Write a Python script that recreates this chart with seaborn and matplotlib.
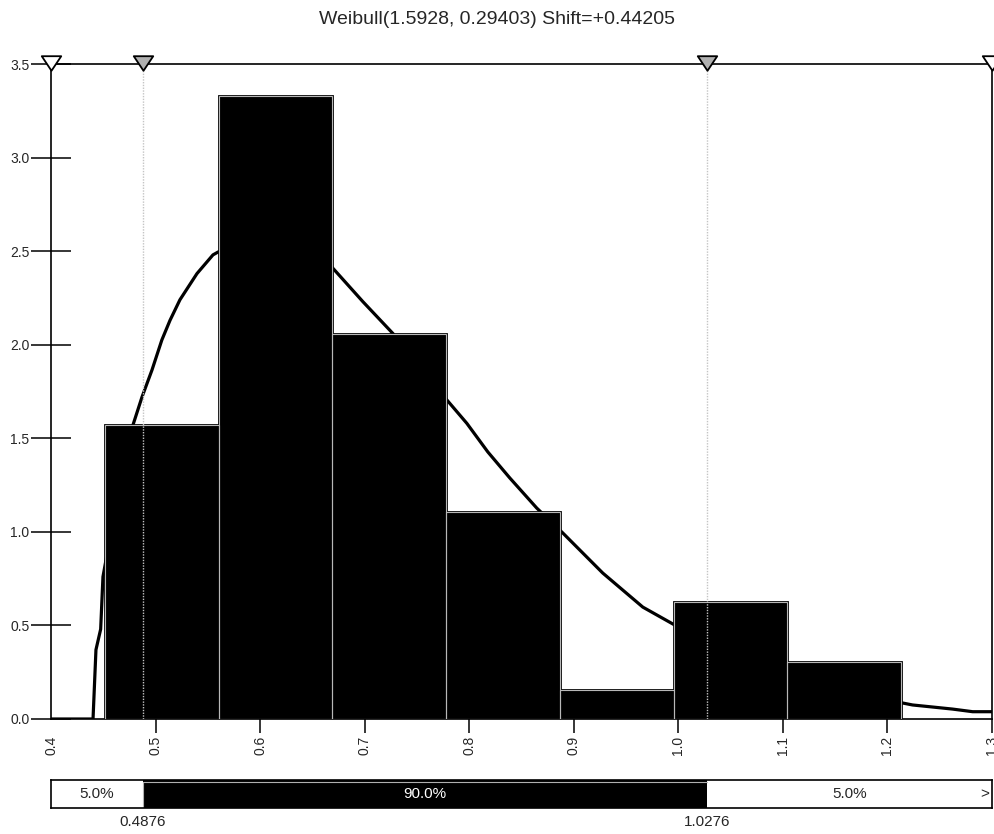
import numpy as np
import pandas as pd
import matplotlib
matplotlib.use("Agg")
import matplotlib.pyplot as plt
from matplotlib.path import Path
import seaborn as sns

# histogram (density)
bin_edges = [0.4516, 0.5604, 0.6692, 0.7780, 0.8868, 0.9956, 1.1044, 1.2132]
bar_heights = [1.571, 3.329, 2.057, 1.106, 0.155, 0.625, 0.305]

# fitted Weibull curve
curve_x = [0.400, 0.4402, 0.4430, 0.4475, 0.4497, 0.4526, 0.4650, 0.4784, 0.4870,
           0.4966, 0.5060, 0.5138, 0.5233, 0.5396, 0.5549, 0.5597, 0.580, 0.600,
           0.620, 0.640, 0.6686, 0.6983, 0.7270, 0.7786, 0.7977, 0.8178, 0.8388,
           0.8646, 0.8895, 0.9277, 0.9660, 0.9966, 1.030, 1.060, 1.0846, 1.1046,
           1.150, 1.2145, 1.2240, 1.2432, 1.2623, 1.2815, 1.300]
curve_y = [0.0, 0.0, 0.37, 0.48, 0.76, 0.85, 1.20, 1.571, 1.72,
           1.865, 2.025, 2.13, 2.24, 2.38, 2.48, 2.495, 2.54, 2.55,
           2.53, 2.49, 2.415, 2.23, 2.06, 1.705, 1.58, 1.427, 1.288,
           1.127, 0.994, 0.78, 0.598, 0.502, 0.41, 0.33, 0.27, 0.219,
           0.16, 0.0855, 0.075, 0.064, 0.053, 0.039, 0.039]

left_pct, right_pct = 0.4876, 1.0276
pct_labels = ["5.0%", "90.0%", "5.0%"]
x_ticks = [0.4, 0.5, 0.6, 0.7, 0.8, 0.9, 1.0, 1.1, 1.2, 1.3]
y_ticks = [0.0, 0.5, 1.0, 1.5, 2.0, 2.5, 3.0, 3.5]
title = "Weibull(1.5928, 0.29403) Shift=+0.44205"

sns.set_style("white")
plt.rcParams["font.family"] = ["Liberation Sans", "DejaVu Sans"]

W, H = 994, 834
fig = plt.figure(figsize=(W / 100, H / 100), dpi=100)
ax = fig.add_axes([51 / W, 1 - 719 / H, (992 - 51) / W, (719 - 64) / H])
ax2 = fig.add_axes([51 / W, 1 - 808 / H, (992 - 51) / W, (808 - 780) / H])

# curve behind the bars
curve = pd.DataFrame({"x": curve_x, "y": curve_y})
sns.lineplot(data=curve, x="x", y="y", ax=ax, color="black", lw=2.3, zorder=1,
             sort=False)

centers = [(a + b) / 2 for a, b in zip(bin_edges[:-1], bin_edges[1:])]
hist = pd.DataFrame({"c": centers, "h": bar_heights})
sns.histplot(data=hist, x="c", weights="h", bins=bin_edges, ax=ax, color="black",
             alpha=1, edgecolor="black", linewidth=2.0, zorder=2)
ax.bar(bin_edges[:-1], bar_heights, width=np.diff(bin_edges), align="edge",
       fill=False, edgecolor="#b8b8b8", linewidth=0.8, zorder=3)

# percentile lines and markers
for xv in (left_pct, right_pct):
    ax.plot([xv, xv], [0, 3.5], color="#c4c4c4", lw=1.0, ls=(0, (1, 1)), zorder=4)
tri = Path([(-1, 0.75), (1, 0.75), (0, -0.75), (-1, 0.75)],
           [Path.MOVETO, Path.LINETO, Path.LINETO, Path.CLOSEPOLY])
for xv, fc in [(0.4, "white"), (left_pct, "#b0b0b0"), (right_pct, "#b0b0b0"), (1.3, "white")]:
    ax.plot([xv], [3.508], marker=tri, ms=14, mfc=fc, mec="black", mew=1.3,
            clip_on=False, zorder=6)

ax.set_xlim(0.4, 1.3)
ax.set_ylim(0, 3.5)
ax.set_xticks(x_ticks)
ax.set_xticklabels([f"{v:.1f}" for v in x_ticks], rotation=90, fontsize=10)
ax.set_yticks(y_ticks)
ax.set_yticklabels([f"{v:.1f}" for v in y_ticks], fontsize=10)
ax.tick_params(axis="y", left=True, direction="inout", length=29, width=1.1, pad=1,
               color="black")
ax.tick_params(axis="x", bottom=True, direction="out", length=10, width=1.1, pad=2,
               color="black")
ax.xaxis.get_major_ticks()[0].tick1line.set_visible(False)
ax.set_xlabel("")
ax.set_ylabel("")
for sp in ax.spines.values():
    sp.set_color("black")
    sp.set_linewidth(1.2)
    sp.set_visible(True)

fig.text(0.5, 1 - 20 / H, title, ha="center", va="center", fontsize=14)

# percentile bar underneath
ax2.set_xlim(0.4, 1.3)
ax2.set_ylim(0, 1)
ax2.axvspan(left_pct, right_pct, color="black", lw=0)
ax2.plot([left_pct, right_pct], [0.93, 0.93], color="#b0b0b0", lw=0.8)
ax2.plot([left_pct, left_pct], [0, 0.93], color="#b0b0b0", lw=0.8)
ax2.text((0.4 + left_pct) / 2, 0.5, pct_labels[0], ha="center", va="center", fontsize=11)
ax2.text((left_pct + right_pct) / 2, 0.5, pct_labels[1], ha="center", va="center",
         fontsize=11, color="white")
ax2.text((right_pct + 1.3) / 2, 0.5, pct_labels[2], ha="center", va="center", fontsize=11)
ax2.text(1.293, 0.5, ">", ha="center", va="center", fontsize=11)
ax2.text(left_pct, -0.5, f"{left_pct:.4f}", ha="center", va="center", fontsize=11)
ax2.text(right_pct, -0.5, f"{right_pct:.4f}", ha="center", va="center", fontsize=11)
ax2.set_xticks([])
ax2.set_yticks([])
for sp in ax2.spines.values():
    sp.set_color("black")
    sp.set_linewidth(1.2)

fig.savefig("out.png", dpi=100)
